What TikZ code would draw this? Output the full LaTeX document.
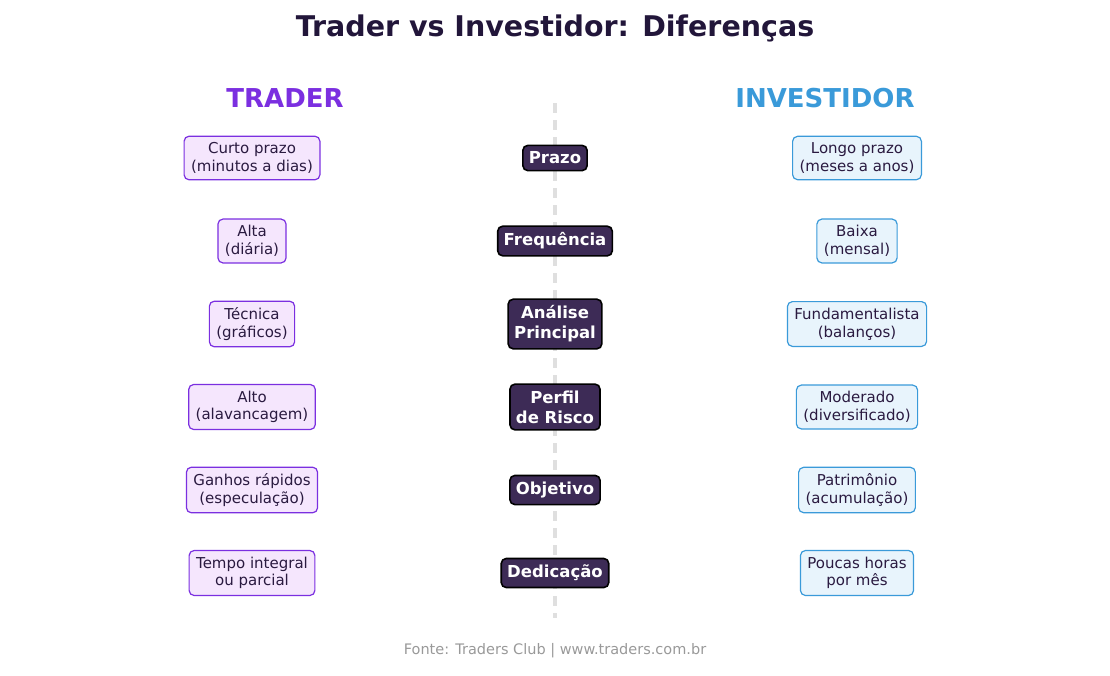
\documentclass[tikz,border=0pt]{standalone}
\usepackage{fontspec}
\setmainfont{DejaVu Sans}
\definecolor{ttl}{HTML}{22163A}
\definecolor{tp}{HTML}{7B2FE0}
\definecolor{ib}{HTML}{3A9AD9}
\definecolor{cf}{HTML}{3D2B56}
\definecolor{lf}{HTML}{F5E6FD}
\definecolor{rf}{HTML}{E8F4FC}
\definecolor{tx}{HTML}{2A1A40}
\begin{document}
\begin{tikzpicture}[x=1pt,y=-1pt,
 lbox/.style={draw=tp,fill=lf,rounded corners=5pt,line width=1.2pt,align=center,font=\fontsize{15}{17.5}\selectfont,text=tx,inner xsep=7pt,inner ysep=6.5pt},
 rbox/.style={draw=ib,fill=rf,rounded corners=5pt,line width=1.2pt,align=center,font=\fontsize{15}{17.5}\selectfont,text=tx,inner xsep=7pt,inner ysep=6.5pt},
 cbox/.style={draw=black,fill=cf,rounded corners=5pt,line width=1.6pt,align=center,font=\bfseries\fontsize{16.5}{20}\selectfont,text=white,inner xsep=6pt,inner ysep=6.5pt}]
\useasboundingbox (0,0) rectangle (1110,675);
\node[font=\bfseries\fontsize{28.5}{32}\selectfont,text=ttl] (title) at (555,28) {Trader vs Investidor: Diferenças};
\node[font=\bfseries\fontsize{26}{30}\selectfont,text=tp] (tr) at (285,98) {TRADER};
\node[font=\bfseries\fontsize{26}{30}\selectfont,text=ib] (inv) at (825,98) {INVESTIDOR};
\coordinate (d1) at (555,103); \coordinate (d2) at (555,618);
\draw[gray!25,line width=3.5pt,dash pattern=on 10pt off 7pt] (d1) -- (d2);
\foreach \y/\l/\c/\r [count=\i] in {
158/{Curto prazo\\(minutos a dias)}/{Prazo}/{Longo prazo\\(meses a anos)},
241/{Alta\\(diária)}/{Frequência}/{Baixa\\(mensal)},
324/{Técnica\\(gráficos)}/{Análise\\Principal}/{Fundamentalista\\(balanços)},
407/{Alto\\(alavancagem)}/{Perfil\\de Risco}/{Moderado\\(diversificado)},
490/{Ganhos rápidos\\(especulação)}/{Objetivo}/{Patrimônio\\(acumulação)},
573/{Tempo integral\\ou parcial}/{Dedicação}/{Poucas horas\\por mês}}{
\node[lbox] (l\i) at (252,\y) {\l};
\node[cbox] (c\i) at (555,\y) {\c};
\node[rbox] (r\i) at (857,\y) {\r};
}
\node[font=\fontsize{14.5}{16}\selectfont,text=gray!80] (src) at (555,651) {Fonte: Traders Club | www.traders.com.br};
\end{tikzpicture}
\end{document}
